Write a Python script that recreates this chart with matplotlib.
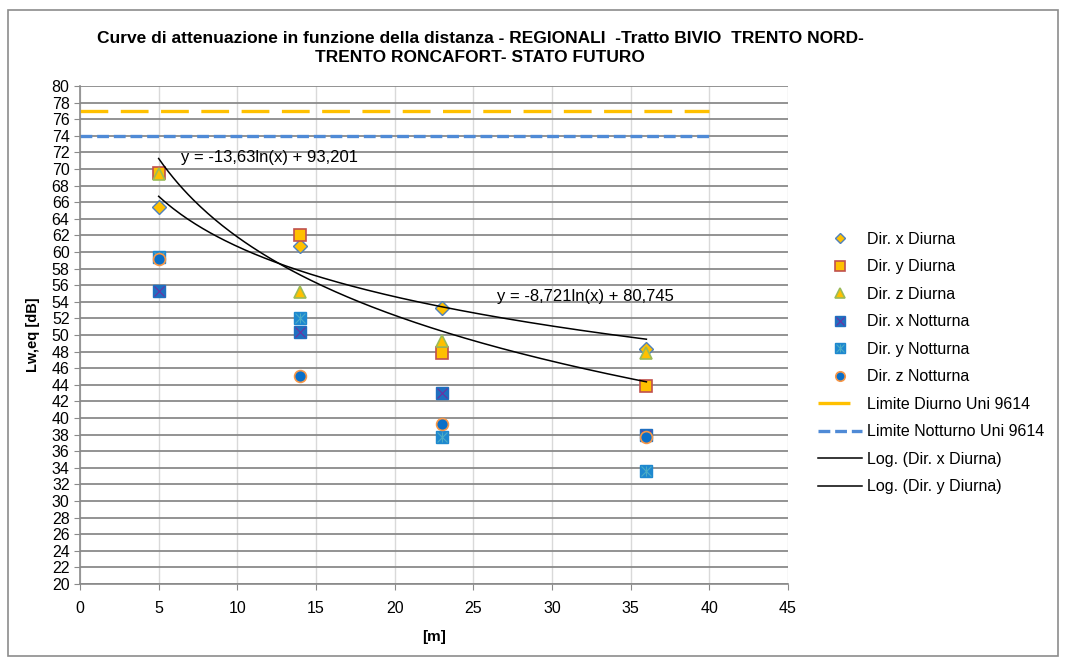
import numpy as np
import matplotlib
matplotlib.use("Agg")
import matplotlib.pyplot as plt
from matplotlib.patches import Rectangle
from matplotlib.lines import Line2D

# distanze di misura [m]
dist = [5, 14, 23, 36]

# livelli Lw,eq [dB] per direzione e periodo
x_diurna = [65.4, 60.7, 53.3, 48.3]
y_diurna = [69.5, 62.1, 47.8, 43.9]
z_diurna = [69.4, 55.2, 49.3, 47.8]
x_notturna = [55.3, 50.4, 43.0, 38.0]
y_notturna = [59.4, 52.0, 37.7, 33.6]
z_notturna = [59.2, 45.0, 39.3, 37.7]

# limiti UNI 9614
lim_diurno = 77
lim_notturno = 74
lim_x = [0, 40]

# coefficienti delle linee di tendenza logaritmiche
tr_x = (-8.721, 80.745)
tr_y = (-13.63, 93.201)

plt.rcParams["font.family"] = ["Liberation Sans", "DejaVu Sans"]
plt.rcParams["lines.scale_dashes"] = False

fig = plt.figure(figsize=(10.65, 6.64), dpi=100)
fig.patches.append(Rectangle((8 / 1065, 1 - 656 / 664), 1050 / 1065, 646 / 664,
                             transform=fig.transFigure, fill=False,
                             edgecolor="#8c8c8c", linewidth=1.2))
ax = fig.add_axes([80 / 1065, 1 - 584 / 664, 708 / 1065, 498 / 664])

ax.set_xlim(0, 45)
ax.set_ylim(20, 80)
ax.set_xticks(np.arange(0, 46, 5))
ax.set_yticks(np.arange(20, 81, 2))
ax.yaxis.grid(True, color="#8a8a8a", linewidth=1.3)
ax.xaxis.grid(True, color="#d9d9d9", linewidth=1.0)
ax.set_axisbelow(True)
for s in ["top", "right"]:
    ax.spines[s].set_visible(False)
for s in ["left", "bottom"]:
    ax.spines[s].set_color("#8a8a8a")
    ax.spines[s].set_linewidth(1.2)
ax.tick_params(colors="#8a8a8a", length=4, labelcolor="black", labelsize=11.5)
ax.tick_params(axis="x", pad=8)

ms = 8.5
h1, = ax.plot(dist, x_diurna, ls="none", marker="D", ms=7, mfc="#ffc000", mec="#4f81bd", mew=1)
h2, = ax.plot(dist, y_diurna, ls="none", marker="s", ms=ms, mfc="#ffc000", mec="#c0504d", mew=1.2)
h3, = ax.plot(dist, z_diurna, ls="none", marker="^", ms=ms + 0.5, mfc="#ffc000", mec="#9bbb59", mew=1.2)
h4a, = ax.plot(dist, x_notturna, ls="none", marker="s", ms=ms, mfc="#1f6fc0", mec="#1f6fc0")
h4b, = ax.plot(dist, x_notturna, ls="none", marker="x", ms=ms - 1, mec="#7030a0", mew=0.8)
h5a, = ax.plot(dist, y_notturna, ls="none", marker="s", ms=ms, mfc="#1e88cf", mec="#1e88cf")
h5b, = ax.plot(dist, y_notturna, ls="none", marker="x", ms=ms - 1, mec="#4bacc6", mew=0.8)
h5c, = ax.plot(dist, y_notturna, ls="none", marker="|", ms=ms - 1, mec="#4bacc6", mew=0.8)
h6, = ax.plot(dist, z_notturna, ls="none", marker="o", ms=ms, mfc="#0a6fc8", mec="#f79646", mew=1.2)

ax.plot(lim_x, [lim_diurno] * 2, color="#ffc000", lw=2.4, dashes=(20, 9))
h8, = ax.plot(lim_x, [lim_notturno] * 2, color="#4f8ad6", lw=2.4, dashes=(8.5, 3.5))
# in legenda il tratto lungo appare come segmento pieno
h7 = Line2D([], [], color="#ffc000", lw=2.4, dashes=(23, 30))

xx = np.linspace(dist[0], dist[-1], 200)
h9, = ax.plot(xx, tr_x[0] * np.log(xx) + tr_x[1], color="black", lw=1.1)
h10, = ax.plot(xx, tr_y[0] * np.log(xx) + tr_y[1], color="black", lw=1.1)

ax.text(6.4, 71.4, "y = -13,63ln(x) + 93,201", fontsize=12, va="center")
ax.text(26.5, 54.6, "y = -8,721ln(x) + 80,745", fontsize=12, va="center")

ax.set_xlabel("[m]", fontsize=11, fontweight="bold", labelpad=10)
ax.set_ylabel("Lw,eq [dB]", fontsize=10.5, fontweight="bold", labelpad=8)

fig.text(480 / 1065, 1 - 48 / 664,
         "Curve di attenuazione in funzione della distanza - REGIONALI  -Tratto BIVIO  TRENTO NORD-\nTRENTO RONCAFORT- STATO FUTURO",
         ha="center", va="center", fontsize=12.5, fontweight="bold", linespacing=1.4)

handles = [h1, h2, h3, (h4a, h4b), (h5a, h5b, h5c), h6, h7, h8, h9, h10]
labels = ["Dir. x Diurna", "Dir. y Diurna", "Dir. z Diurna", "Dir. x Notturna",
          "Dir. y Notturna", "Dir. z Notturna", "Limite Diurno Uni 9614",
          "Limite Notturno Uni 9614", "Log. (Dir. x Diurna)", "Log. (Dir. y Diurna)"]
fig.legend(handles, labels, loc="upper left", bbox_to_anchor=(818 / 1065, 1 - 232 / 664),
           frameon=False, fontsize=11.5, handlelength=2.75, handletextpad=0.3,
           labelspacing=0.78, borderpad=0, borderaxespad=0, markerscale=0.8)

fig.savefig("out.png", dpi=100)
